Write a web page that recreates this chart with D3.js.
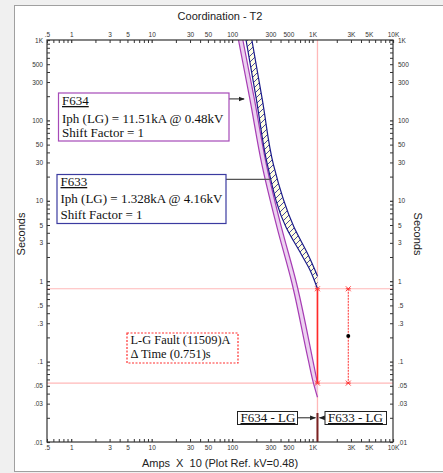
<!DOCTYPE html>
<html><head><meta charset="utf-8">
<script src="https://cdn.jsdelivr.net/npm/d3@7"></script>
<style>body{margin:0;background:#fff}svg{display:block}</style>
</head><body><script>
// ---- data ----
const xTickValues=[0.5,1,3,5,10,30,50,100,300,500,1000,3000,5000,10000];
const xTickLabels=[".5","1","3","5","10","30","50","100","300","500","1K","3K","5K","10K"];
const yTickValues=[1000,500,300,100,50,30,10,5,3,1,0.5,0.3,0.1,0.05,0.03,0.01];
const yTickLabels=["1K","500","300","100","50","30","10","5","3","1",".5",".3",".1",".05",".03",".01"];
// [amps x10, seconds]
const f634Min=[[120,1000],[167,180],[235,28],[361,4.7],[554,0.95],[884,0.105],[1026,0.054],[1151,0.036]];
const f634Max=[[136,1000],[190,180],[267,28],[410,4.7],[631,0.95],[1006,0.105],[1151,0.054]];
const f633Min=[[149,1000],[201,179],[275,27.9],[467,4.72],[732,2.12],[928,1.38],[1151,0.805]];
const f633Max=[[176,1000],[238,179],[327,27.9],[587,4.72],[884,2.12],[1071,1.38],[1151,1.16]];
const faultAmps=1151;
const f633Time=0.805, f634Time=0.054;
const deltaMarkerAmps=2780;
const labelTime=0.02;
const f634Box=["F634","Iph (LG) = 11.51kA @ 0.48kV","Shift Factor = 1"];
const f633Box=["F633","Iph (LG) = 1.328kA @ 4.16kV","Shift Factor = 1"];
const faultBox=["L-G Fault (11509)A","\u0394 Time (0.751)s"];

// ---- layout ----
const W=443,H=473, L=47,R=393,T=40,B=442;
const svg=d3.select("body").append("svg").attr("width",W).attr("height",H);
svg.append("rect").attr("width",W).attr("height",H).attr("fill","#f0f0f0");
svg.append("rect").attr("x",14.5).attr("y",5.5).attr("width",W-14).attr("height",466).attr("fill","#fff").attr("stroke","#a0a0a0");

const x=d3.scaleLog().domain([0.5,10000]).range([L,R]);
const y=d3.scaleLog().domain([0.01,1000]).range([B,T]);

const defs=svg.append("defs");
defs.append("clipPath").attr("id","clip").append("rect").attr("x",L).attr("y",T).attr("width",R-L).attr("height",B-T);
const pat=defs.append("pattern").attr("id","hatch").attr("patternUnits","userSpaceOnUse").attr("width",6).attr("height",6);
pat.append("rect").attr("width",6).attr("height",6).attr("fill","#ffffe2");
pat.append("path").attr("d","M-1,1 l2,-2 M0,6 l6,-6 M5,7 l2,-2").attr("stroke","#1a1a8a").attr("stroke-width",0.8);
function marker(id,color){
  defs.append("marker").attr("id",id).attr("viewBox","0 0 10 10").attr("refX",9).attr("refY",5)
   .attr("markerWidth",6).attr("markerHeight",6).attr("orient","auto-start-reverse")
   .append("path").attr("d","M0,1 L10,5 L0,9 z").attr("fill",color);
}
marker("arr","#222");

// minor ticks
const minorX=[],minorY=[];
for(let e=-2;e<=4;e++)for(let m=1;m<=9;m++){const v=+(m*Math.pow(10,e)).toPrecision(3);
  if(v>=0.5&&v<=10000)minorX.push(v); if(v>=0.01&&v<=1000)minorY.push(v);}
const isDec=v=>Math.abs(Math.log10(v)-Math.round(Math.log10(v)))<1e-9;

// titles
const sans="Liberation Sans, Arial";
svg.append("text").attr("x",220).attr("y",20).attr("text-anchor","middle")
 .attr("font-family",sans).attr("font-size",11).attr("fill","#222").text("Coordination - T2");
svg.append("text").attr("x",220).attr("y",467).attr("text-anchor","middle").style("white-space","pre")
 .attr("font-family",sans).attr("font-size",11).attr("fill","#222").text("Amps  X  10 (Plot Ref. kV=0.48)");
svg.append("text").attr("transform","translate(25,234) rotate(-90)").attr("text-anchor","middle")
 .attr("font-family",sans).attr("font-size",11).attr("fill","#222").text("Seconds");
svg.append("text").attr("transform","translate(414,234) rotate(90)").attr("text-anchor","middle")
 .attr("font-family",sans).attr("font-size",11).attr("fill","#222").text("Seconds");

// plot content (clipped)
const plot=svg.append("g").attr("clip-path","url(#clip)");
const line=d3.line().x(d=>x(d[0])).y(d=>y(d[1])).curve(d3.curveMonotoneY);
function band(minA,maxA,fill,stroke){
  const p=line(maxA)+"L"+line(minA.slice().reverse()).slice(1)+"Z";
  plot.append("path").attr("d",p).attr("fill",fill).attr("stroke","none");
  plot.append("path").attr("d",line(minA)).attr("fill","none").attr("stroke",stroke).attr("stroke-width",1.2);
  plot.append("path").attr("d",line(maxA)).attr("fill","none").attr("stroke",stroke).attr("stroke-width",1.2);
}
// pink reference lines
plot.append("line").attr("x1",x(faultAmps)).attr("x2",x(faultAmps)).attr("y1",T).attr("y2",B).attr("stroke","#ffb8b8").attr("stroke-width",1.3);
[f633Time,f634Time].forEach(t=>plot.append("line").attr("x1",L).attr("x2",R).attr("y1",y(t)).attr("y2",y(t)).attr("stroke","#ffb8b8").attr("stroke-width",1.2));

band(f634Min,f634Max,"#ecd2f0","#a63cb4");
band(f633Min,f633Max,"url(#hatch)","#1a1a8a");

// delta-time lines
plot.append("line").attr("x1",x(faultAmps)).attr("x2",x(faultAmps)).attr("y1",y(f633Time)).attr("y2",y(f634Time)).attr("stroke","#ff2a2a").attr("stroke-width",1.6);
plot.append("line").attr("x1",x(deltaMarkerAmps)).attr("x2",x(deltaMarkerAmps)).attr("y1",y(f633Time)).attr("y2",y(f634Time)).attr("stroke","#ff3030").attr("stroke-width",1).attr("stroke-dasharray","2,1");
function xmark(cx,cy){
  plot.append("path").attr("d",`M${cx-2.5},${cy-2.5}L${cx+2.5},${cy+2.5}M${cx-2.5},${cy+2.5}L${cx+2.5},${cy-2.5}M${cx-2.5},${cy}L${cx+2.5},${cy}`).attr("stroke","#ff3030").attr("stroke-width",0.9);
}
[f633Time,f634Time].forEach(t=>{xmark(x(faultAmps),y(t));xmark(x(deltaMarkerAmps),y(t));});
plot.append("circle").attr("cx",x(deltaMarkerAmps)).attr("cy",(y(f633Time)+y(f634Time))/2).attr("r",2).attr("fill","#000");
// dark fault stub
plot.append("line").attr("x1",x(faultAmps)).attr("x2",x(faultAmps)).attr("y1",413).attr("y2",B).attr("stroke","#7a2222").attr("stroke-width",2);

// axes
const ax=(g,gen)=>{g.call(gen);g.selectAll(".domain").remove();g.selectAll("line").attr("stroke","#333");return g;};
ax(svg.append("g").attr("transform",`translate(0,${B})`),d3.axisBottom(x).tickValues(minorX).tickFormat("").tickSize(-3));
ax(svg.append("g").attr("transform",`translate(0,${T})`),d3.axisTop(x).tickValues(minorX).tickFormat("").tickSize(-3));
ax(svg.append("g").attr("transform",`translate(${L},0)`),d3.axisLeft(y).tickValues(minorY).tickFormat("").tickSize(-3));
ax(svg.append("g").attr("transform",`translate(${R},0)`),d3.axisRight(y).tickValues(minorY).tickFormat("").tickSize(-3));
svg.selectAll(".tick line").filter(function(d){return isDec(d);}).attr("stroke-width",1.2);
function labels(g,gen){g.call(gen);g.select(".domain").remove();g.selectAll("text").attr("font-family",sans).attr("font-size",6.5).attr("fill","#333");}
labels(svg.append("g").attr("transform",`translate(0,${B})`),d3.axisBottom(x).tickValues(xTickValues).tickFormat((d,i)=>xTickLabels[i]).tickSize(0).tickPadding(3));
labels(svg.append("g").attr("transform",`translate(0,${T})`),d3.axisTop(x).tickValues(xTickValues).tickFormat((d,i)=>xTickLabels[i]).tickSize(0).tickPadding(3));
labels(svg.append("g").attr("transform",`translate(${L},0)`),d3.axisLeft(y).tickValues(yTickValues).tickFormat((d,i)=>yTickLabels[i]).tickSize(0).tickPadding(4));
labels(svg.append("g").attr("transform",`translate(${R},0)`),d3.axisRight(y).tickValues(yTickValues).tickFormat((d,i)=>yTickLabels[i]).tickSize(0).tickPadding(5));
svg.append("rect").attr("x",L).attr("y",T).attr("width",R-L).attr("height",B-T).attr("fill","none").attr("stroke","#333").attr("stroke-width",1.2);

// annotation boxes
const serif="Liberation Serif, Times New Roman, serif";
function box(bx,by,bw,bh,lines,stroke,ys,fs,dash){
  svg.append("rect").attr("x",bx).attr("y",by).attr("width",bw).attr("height",bh).attr("fill","#fff").attr("stroke",stroke).attr("stroke-width",1.2).attr("stroke-dasharray",dash||null);
  lines.forEach((s,i)=>svg.append("text").attr("x",bx+3.5).attr("y",ys[i]).attr("font-family",serif).attr("font-size",fs).attr("fill","#111")
    .style("text-decoration",(i===0&&!dash)?"underline":null).text(s));
}
svg.append("line").attr("x1",229).attr("x2",x(141)).attr("y1",y(185)).attr("y2",y(185)).attr("stroke","#222").attr("marker-end","url(#arr)");
svg.append("line").attr("x1",226).attr("x2",x(300)).attr("y1",y(18.5)).attr("y2",y(18.5)).attr("stroke","#555").attr("stroke-width",1.2);
box(58.5,93,170.5,48,f634Box,"#a64ab8",[105,122.5,137],13);
box(57,174.5,169,49,f633Box,"#3b3ba0",[186,203,218.5],13);
box(127,333,111,30,faultBox,"#ff3030",[344,357.5],12.4,"2,1.5");

// bottom labels
function lab(bx,bw,s){
  svg.append("rect").attr("x",bx).attr("y",411.5).attr("width",bw).attr("height",13).attr("fill","#fff").attr("stroke","#222");
  svg.append("text").attr("x",bx+3).attr("y",422).attr("font-family",serif).attr("font-size",13).attr("fill","#111").style("text-decoration","underline").text(s);
}
svg.append("line").attr("x1",297.5).attr("x2",x(faultAmps)-2).attr("y1",y(labelTime)).attr("y2",y(labelTime)).attr("stroke","#222").attr("marker-end","url(#arr)");
svg.append("line").attr("x1",325).attr("x2",x(faultAmps)+2).attr("y1",y(labelTime)).attr("y2",y(labelTime)).attr("stroke","#222").attr("marker-end","url(#arr)");
lab(237.5,60,"F634 - LG");
lab(325,61.5,"F633 - LG");
</script></body></html>
